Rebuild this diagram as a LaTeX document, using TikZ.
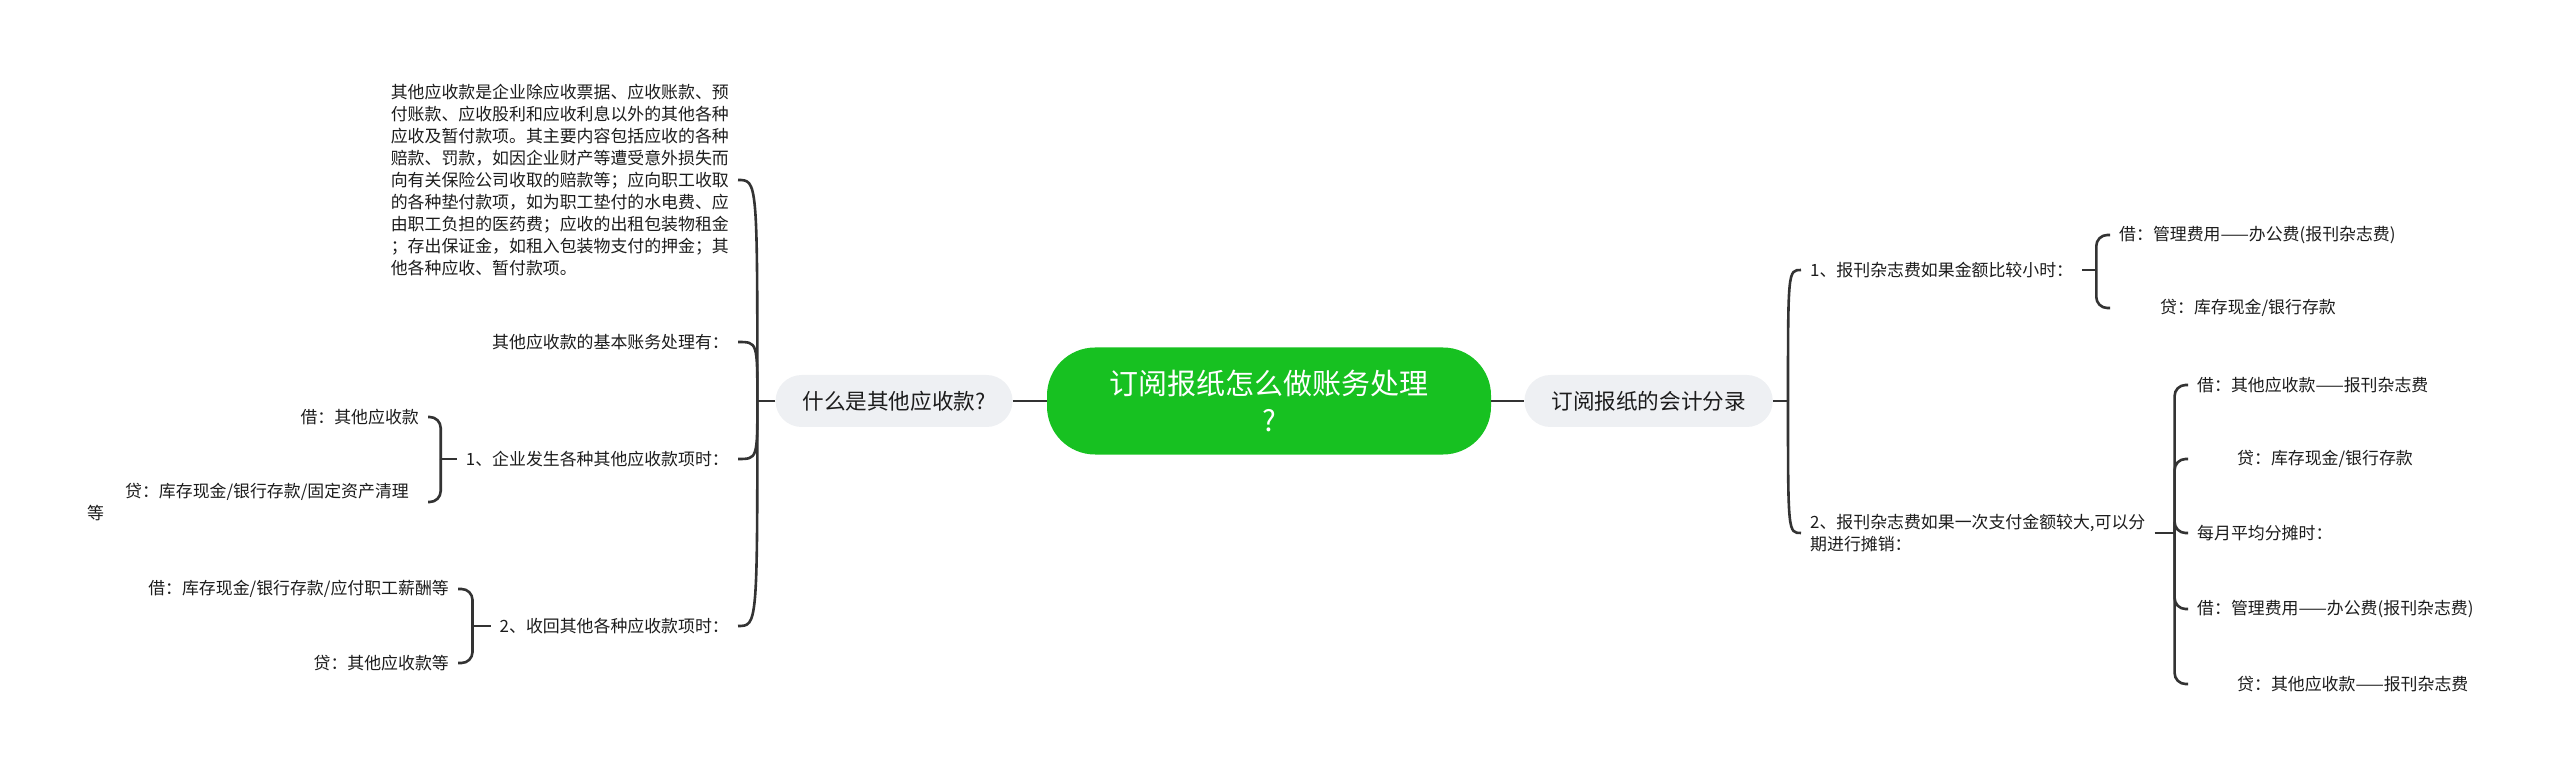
\documentclass[tikz,border=0pt]{standalone}
\usepackage{fontspec}
\setmainfont{Noto Sans CJK SC}
\usetikzlibrary{positioning}

\definecolor{rootgreen}{RGB}{23,193,33}
\definecolor{topicgray}{RGB}{238,240,243}
\definecolor{ink}{RGB}{51,51,51}
\definecolor{textink}{RGB}{28,28,28}
\newcommand\leafsize{\fontsize{16.9pt}{22pt}\selectfont}
\newcommand\topicsize{\fontsize{21.6pt}{26pt}\selectfont}
\newcommand\rootsize{\fontsize{29pt}{37pt}\selectfont}

\begin{document}
\begin{tikzpicture}[x=1pt,y=-1pt,node distance=34pt,
  root node/.style={fill=rootgreen,text=white,rounded corners=48pt,minimum width=444pt,minimum height=107pt,inner sep=0pt,align=center,font=\rootsize},
  topic node/.style={fill=topicgray,text=textink,rounded corners=26pt,minimum height=52pt,inner xsep=27pt,font=\topicsize},
  leaf node/.style={text=textink,inner xsep=9pt,inner ysep=2pt,font=\leafsize},
  link/.style={draw=ink,line width=2.6pt},
  brace/.style={draw=ink,line width=2.6pt,rounded corners=11pt}]

  \useasboundingbox (0,0) rectangle (2560,775);

  \node[root node] (root) at (1269,401) {订阅报纸怎么做账务处理\\?};
  \node[topic node] (what) [left=34pt of root] {什么是其他应收款?};
  \node[topic node] (entry) [right=33pt of root] {订阅报纸的会计分录};
  \coordinate (jl) at ([xshift=-18pt]what.west);
  \coordinate (jr) at ([xshift=15pt]entry.east);

  % left side
  \node[leaf node,anchor=east,align=left] (defn) at (738,180) {其他应收款是企业除应收票据、应收账款、预\\付账款、应收股利和应收利息以外的其他各种\\应收及暂付款项。其主要内容包括应收的各种\\赔款、罚款，如因企业财产等遭受意外损失而\\向有关保险公司收取的赔款等；应向职工收取\\的各种垫付款项，如为职工垫付的水电费、应\\由职工负担的医药费；应收的出租包装物租金\\；存出保证金，如租入包装物支付的押金；其\\他各种应收、暂付款项。};
  \node[leaf node,anchor=east] (basic) at (738,342) {其他应收款的基本账务处理有：};
  \node[leaf node,anchor=east] (occur) at (738,459) {1、企业发生各种其他应收款项时：};
  \node[leaf node,anchor=east] (recover) at (738,626) {2、收回其他各种应收款项时：};
  \coordinate (js1) at ([xshift=-16pt]occur.west);
  \coordinate (js2) at ([xshift=-18pt]recover.west);

  \node[leaf node,anchor=east] (occurdr) at (428,417) {借：其他应收款};
  \node[leaf node,anchor=east,align=left] (occurcr) at (428,502) {\hspace*{38pt}贷：库存现金/银行存款/固定资产清理\hspace*{10pt}\\等};
  \node[leaf node,anchor=east] (recoverdr) at (458,589) {借：库存现金/银行存款/应付职工薪酬等};
  \node[leaf node,anchor=east] (recovercr) at (458,663) {贷：其他应收款等};

  % right side
  \node[leaf node,anchor=west] (small) at (1801,270) {1、报刊杂志费如果金额比较小时：};
  \node[leaf node,anchor=west,align=left] (large) at (1801,533) {2、报刊杂志费如果一次支付金额较大,可以分\\期进行摊销：};
  \coordinate (jr1) at ([xshift=14pt]small.east);
  \coordinate (jr2) at ([xshift=20pt]large.east);

  \node[leaf node,anchor=west] (smalldr) at (2110,235) {借：管理费用——办公费(报刊杂志费)};
  \node[leaf node,anchor=west] (smallcr) at (2110,308) {\hspace*{41pt}贷：库存现金/银行存款};
  \node[leaf node,anchor=west] (largea) at (2188,385) {借：其他应收款——报刊杂志费};
  \node[leaf node,anchor=west] (largeb) at (2188,459) {\hspace*{40pt}贷：库存现金/银行存款};
  \node[leaf node,anchor=west] (largec) at (2188,533) {每月平均分摊时：};
  \node[leaf node,anchor=west] (larged) at (2188,609) {借：管理费用——办公费(报刊杂志费)};
  \node[leaf node,anchor=west] (largee) at (2188,684) {\hspace*{40pt}贷：其他应收款——报刊杂志费};

  \path[link]
    (what) edge (root)
    (root) edge (entry)
    (what) edge (jl)
    (entry) edge (jr)
    (occur.west) edge (js1)
    (recover.west) edge (js2)
    (small.east) edge (jr1)
    (large.east) edge (jr2)
    ;

  \draw[link] (jl) .. controls (jl |- defn.east) .. (defn.east);
  \draw[link] (jl) .. controls (jl |- basic.east) .. (basic.east);
  \draw[link] (jl) .. controls (jl |- occur.east) .. (occur.east);
  \draw[link] (jl) .. controls (jl |- recover.east) .. (recover.east);
  \draw[link] (jr) .. controls (jr |- small.west) .. (small.west);
  \draw[link] (jr) .. controls (jr |- large.west) .. (large.west);

  \draw[brace] (js1) |- (occurdr.east);
  \draw[brace] (js1) |- (occurcr.east);
  \draw[brace] (js2) |- (recoverdr.east);
  \draw[brace] (js2) |- (recovercr.east);
  \draw[brace] (jr1) |- (smalldr.west);
  \draw[brace] (jr1) |- (smallcr.west);
  \foreach \n in {largea,largeb,largec,larged,largee}
    \draw[brace] (jr2) |- (\n.west);
\end{tikzpicture}
\end{document}
